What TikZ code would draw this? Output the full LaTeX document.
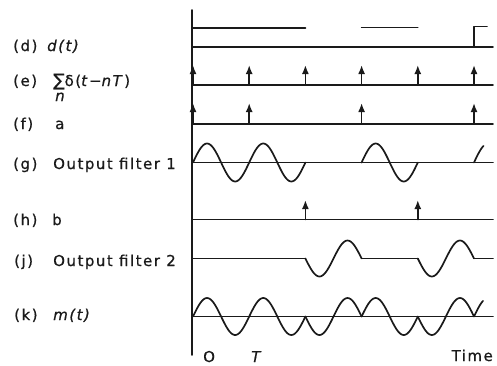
\documentclass[tikz,border=0pt]{standalone}
\usepackage{fontspec}
\setmainfont{DejaVu Sans}[LetterSpace=10,FakeBold=0.7]
\usetikzlibrary{arrows.meta}
\definecolor{ink}{HTML}{1A1A1A}
\begin{document}
\begin{tikzpicture}[x=1pt,y=-1pt,
  ln/.style={draw=ink, line width=1.7pt, line cap=round, line join=round},
  imp/.style={ln, -{Latex[length=9pt,width=7pt]}},
  lbl/.style={anchor=base west, inner sep=0pt, text=ink, font=\fontsize{15}{18}\selectfont}]
\useasboundingbox (0,0) rectangle (497,365);
\def\xo{193}\def\T{56.2}
% axis
\draw[ln] (192,10) -- (192,355);
% (d) d(t)
\draw[ln] (192,47) -- (493,47);
\draw[ln] (192,28) -- ({\xo+2*\T},28);
\draw[ln] ({\xo+3*\T},27.5) -- ({\xo+4*\T},27.5);
\draw[ln] ({\xo+5*\T},47) -- ({\xo+5*\T},26.5) -- (487,26.5);
% (e) impulses
\draw[ln] (192,85) -- (493,85);
\foreach \k in {0,...,5} \draw[imp] ({\xo+\k*\T},85) -- ({\xo+\k*\T},65);
% (f) a
\draw[ln] (192,124) -- (493,124);
\foreach \k in {0,1,3,5} \draw[imp] ({\xo+\k*\T},124) -- ({\xo+\k*\T},103);
% (g) output filter 1
\draw[ln] (192,162.5) -- (493,162.5);
\draw[ln] plot[domain=0:2,samples=90,smooth] ({\xo+\T*\x},{162.5-19*sin(360*\x)});
\draw[ln] plot[domain=3:4,samples=45,smooth] ({\xo+\T*\x},{162.5-19*sin(360*\x)});
\draw[ln] plot[domain=5:5.17,samples=10,smooth] ({\xo+\T*\x},{162.5-19*sin(360*\x)});
% (h) b
\draw[ln] (192,219.5) -- (493,219.5);
\foreach \k in {2,4} \draw[imp] ({\xo+\k*\T},219.5) -- ({\xo+\k*\T},200);
% (j) output filter 2
\draw[ln] (192,258.5) -- ({\xo+2*\T},258.5);
\draw[ln] plot[domain=2:3,samples=45,smooth] ({\xo+\T*\x},{258.5+18*sin(360*\x)});
\draw[ln] ({\xo+3*\T},258.5) -- ({\xo+4*\T},258.5);
\draw[ln] plot[domain=4:5,samples=45,smooth] ({\xo+\T*\x},{258.5+18*sin(360*\x)});
\draw[ln] ({\xo+5*\T},258.5) -- (493,258.5);
% (k) m(t)
\draw[ln] (192,316.5) -- (493,316.5);
\draw[ln] plot[domain=0:2,samples=90,smooth] ({\xo+\T*\x},{316.5-18.5*sin(360*\x)});
\draw[ln] plot[domain=2:3,samples=45,smooth] ({\xo+\T*\x},{316.5+18.5*sin(360*\x)});
\draw[ln] plot[domain=3:4,samples=45,smooth] ({\xo+\T*\x},{316.5-18.5*sin(360*\x)});
\draw[ln] plot[domain=4:5,samples=45,smooth] ({\xo+\T*\x},{316.5+18.5*sin(360*\x)});
\draw[ln] plot[domain=5:5.16,samples=10,smooth] ({\xo+\T*\x},{316.5-18.5*sin(360*\x)});
% labels
\node[lbl] (ld) at (13,51) {(d)};
\node[lbl] (td) at (47,51) {\itshape d(t)};
\node[lbl] (le) at (13,86) {(e)};
\node[lbl] (te) at (53,86) {{\fontsize{17}{18}\selectfont ∑}δ(\textit{t}−\textit{nT})};
\node[lbl] (ne) at (55,101) {\itshape n};
\node[lbl] (lf) at (13,129) {(f)};
\node[lbl] (tf) at (55,129) {a};
\node[lbl] (lg) at (13,169) {(g)};
\node[lbl] (tg) at (53,169) {Output filter 1};
\node[lbl] (lh) at (13,225) {(h)};
\node[lbl] (th) at (52,225) {b};
\node[lbl] (lj) at (14,266) {(j)};
\node[lbl] (tj) at (53,266) {Output filter 2};
\node[lbl] (lk) at (14,320) {(k)};
\node[lbl] (tk) at (53,320) {\itshape m(t)};
\node[lbl] (o) at (203,362) {O};
\node[lbl] (tt) at (251,362) {\itshape T};
\node[lbl, anchor=base east] (time) at (493,361) {Time};
\end{tikzpicture}
\end{document}
